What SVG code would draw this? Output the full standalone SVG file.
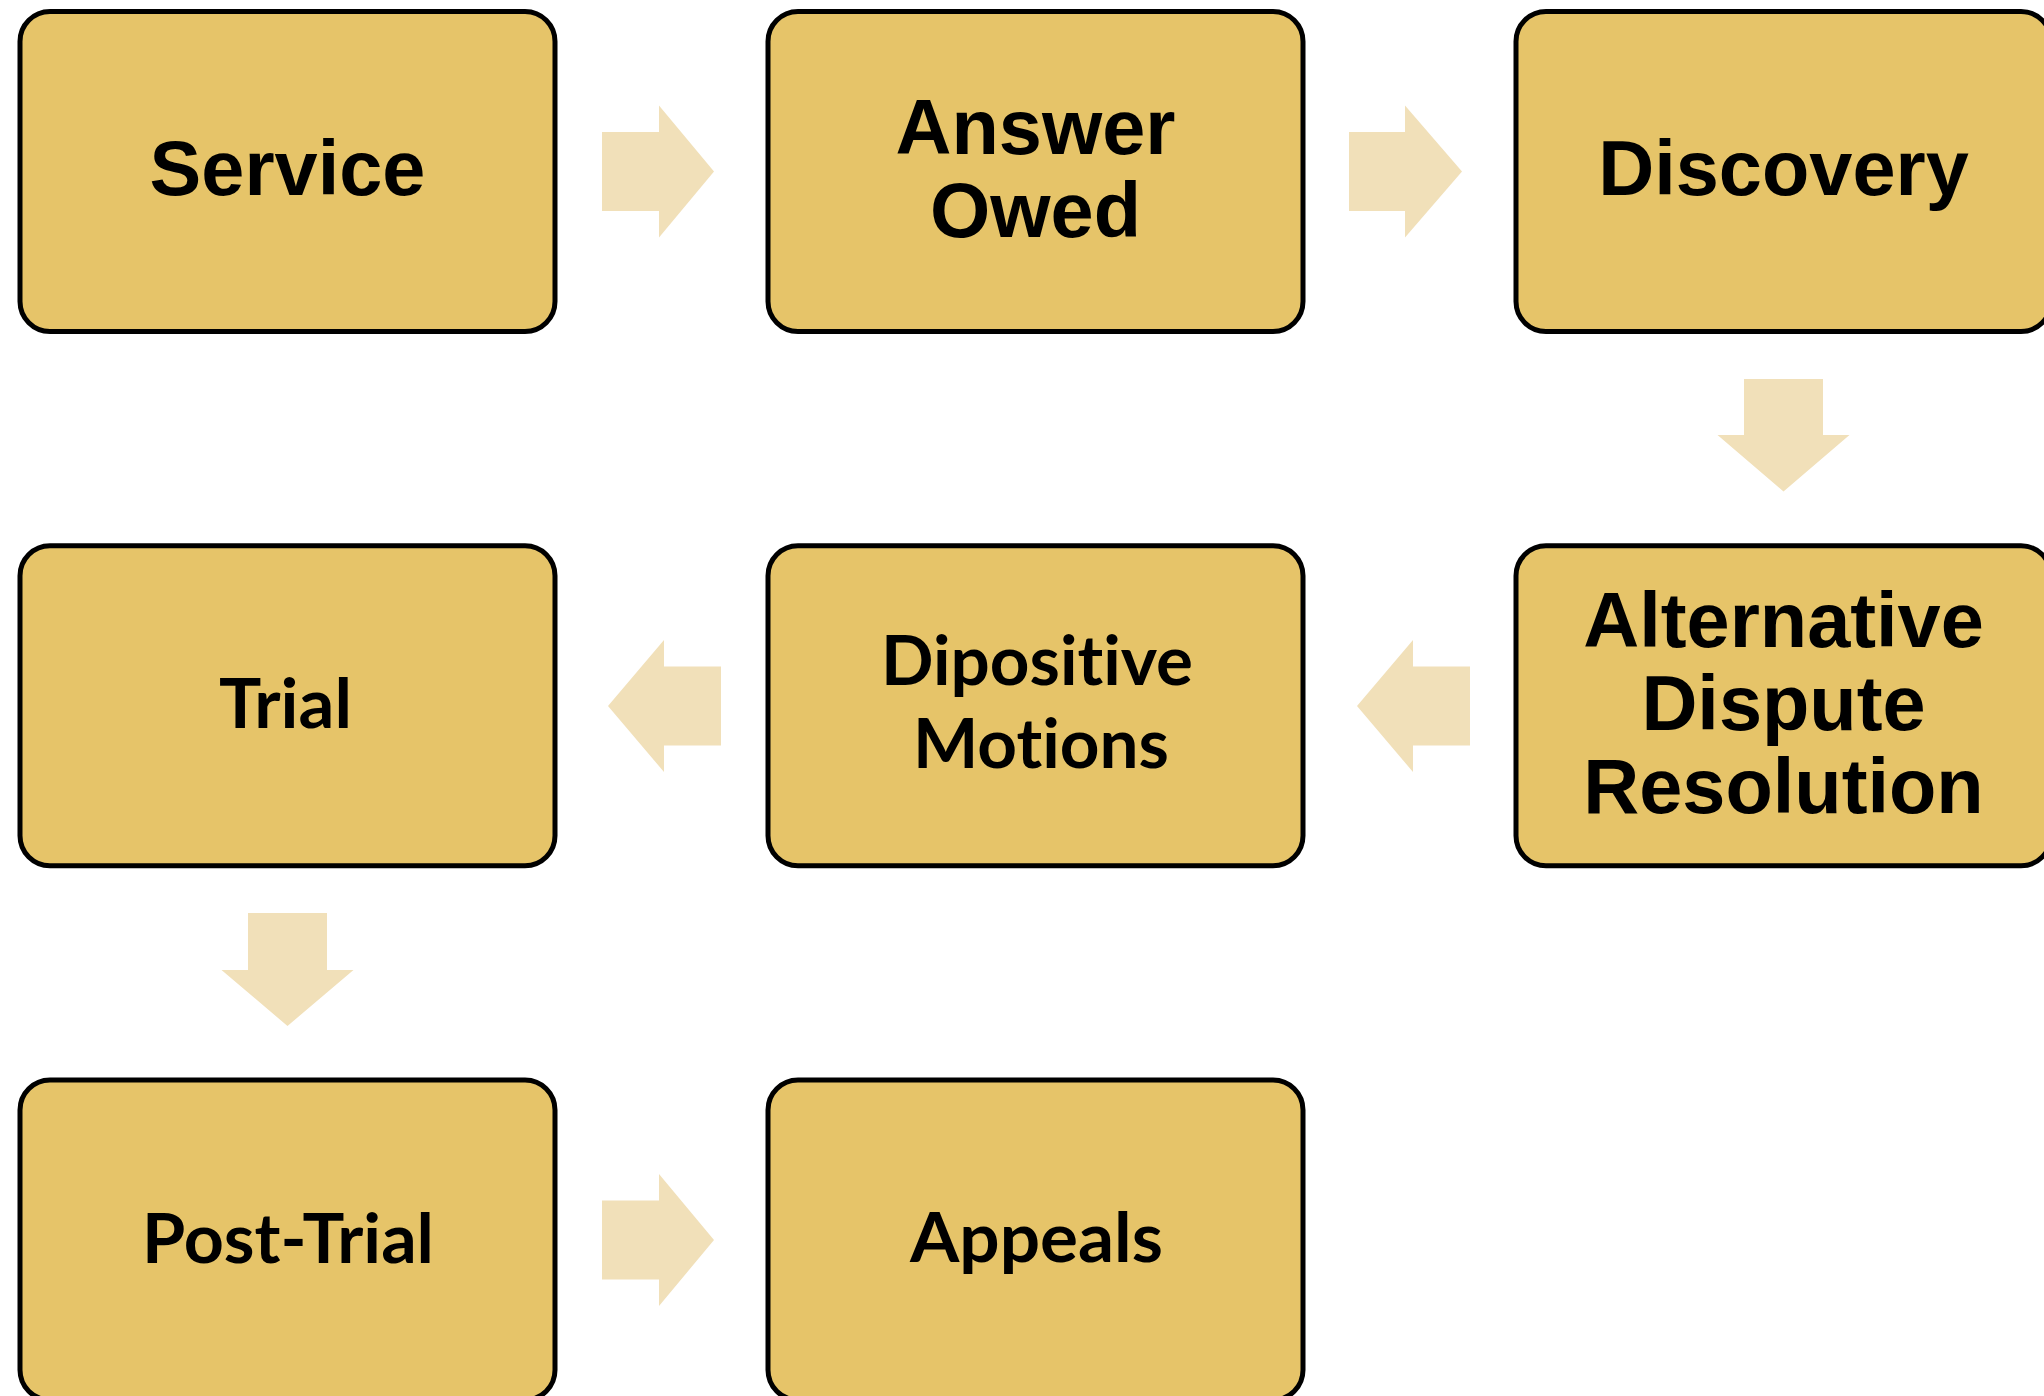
<svg xmlns="http://www.w3.org/2000/svg" width="2044" height="1396" viewBox="0 0 2044 1396">
<style>
.box{fill:#E6C469;stroke:#000;stroke-width:5}
.arr{fill:#F1E0B9}
.a{font-family:"Liberation Sans",Arial,sans-serif;font-weight:700;font-size:77.5px;fill:#000;text-anchor:middle}
.c{font-family:Lato,"Open Sans",sans-serif;font-weight:700;font-size:68px;fill:#000;text-anchor:middle;font-variant-ligatures:none;font-feature-settings:"liga" 0,"clig" 0}
</style>
<rect width="2044" height="1396" fill="#fff"/>
<g id="connectors">
<polygon class="arr" points="602,132 659,132 659,105.5 714,171.5 659,237.5 659,211 602,211"/>
<polygon class="arr" points="1349,132 1405,132 1405,105.5 1462,171.5 1405,237.5 1405,211 1349,211"/>
<polygon class="arr" points="1744,379 1823,379 1823,435 1849.5,435 1783.5,491.5 1717.5,435 1744,435"/>
<polygon class="arr" points="1470,666.5 1413,666.5 1413,640 1357,706 1413,772 1413,745.5 1470,745.5"/>
<polygon class="arr" points="721,666.5 664,666.5 664,640 608,706 664,772 664,745.5 721,745.5"/>
<polygon class="arr" points="248,913 327,913 327,970 353.5,970 287.5,1026 221.5,970 248,970"/>
<polygon class="arr" points="602,1200.5 659,1200.5 659,1174 714,1240 659,1306 659,1279.5 602,1279.5"/>
</g>
<g id="service">
<rect class="box" x="20" y="11.5" width="535" height="320" rx="30"/>
<text class="a" x="287.5" y="195">Service</text>
</g>
<g id="answer-owed">
<rect class="box" x="768" y="11.5" width="535" height="320" rx="30"/>
<text class="a" x="1035.5" y="154">Answer</text>
<text class="a" x="1035.5" y="237">Owed</text>
</g>
<g id="discovery">
<rect class="box" x="1516" y="11.5" width="535" height="320" rx="30"/>
<text class="a" x="1783.5" y="195">Discovery</text>
</g>
<g id="adr">
<rect class="box" x="1516" y="545.8" width="535" height="320" rx="30"/>
<text class="a" x="1783.5" y="647">Alternative</text>
<text class="a" x="1783.5" y="730">Dispute</text>
<text class="a" x="1783.5" y="813">Resolution</text>
</g>
<g id="dipositive-motions">
<rect class="box" x="768" y="545.8" width="535" height="320" rx="30"/>
<text class="c" x="1037" y="685" textLength="312" lengthAdjust="spacingAndGlyphs">Dipositive</text>
<text class="c" x="1041" y="768" textLength="256" lengthAdjust="spacingAndGlyphs">Motions</text>
</g>
<g id="trial">
<rect class="box" x="20" y="545.8" width="535" height="320" rx="30"/>
<text class="c" x="285.5" y="728" textLength="133" lengthAdjust="spacingAndGlyphs">Trial</text>
</g>
<g id="post-trial">
<rect class="box" x="20" y="1080" width="535" height="320" rx="30"/>
<text class="c" x="288" y="1263" textLength="292" lengthAdjust="spacingAndGlyphs">Post-Trial</text>
</g>
<g id="appeals">
<rect class="box" x="768" y="1080" width="535" height="320" rx="30"/>
<text class="c" x="1036.5" y="1262" textLength="253" lengthAdjust="spacingAndGlyphs">Appeals</text>
</g>
</svg>
